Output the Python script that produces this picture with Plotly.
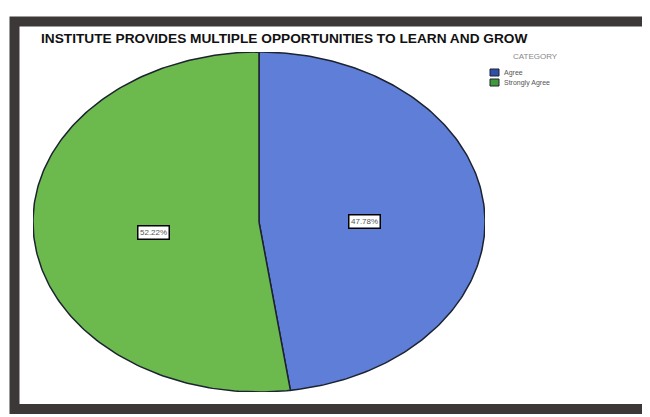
import numpy as np
import plotly.graph_objects as go

# data
categories = ['Agree', 'Strongly Agree']
percents = [47.78, 52.22]
colors = ['#5f7ed8', '#6cb94e']
legend_colors = ['#2f4fa8', '#3f9a3a']

# the page body has an 8px margin, so the figure starts at (8, 8)
O = 8
W, H = 650 - O, 417 - O
L, R, T, B = 33 - O, 650 - 485, 52 - O, 417 - 392
pw, ph = W - L - R, H - T - B


def px(x):
    return (x - O - L) / pw


def py(y):
    return (H - B - (y - O)) / ph


fig = go.Figure()

# wedges of a stretched pie, clockwise from 12 o'clock
start = 0.0
for cat, pct, col in zip(categories, percents, colors):
    a0 = start / 100 * 2 * np.pi
    a1 = (start + pct) / 100 * 2 * np.pi
    t = np.linspace(a0, a1, 200)
    xs = np.concatenate([[0], np.sin(t), [0]])
    ys = np.concatenate([[0], np.cos(t), [0]])
    fig.add_trace(go.Scatter(
        x=xs, y=ys, mode='lines', fill='toself', fillcolor=col,
        line=dict(color='#1c2230', width=1.5), name=cat, hoverinfo='skip',
        showlegend=False
    ))
    mid = (a0 + a1) / 2
    fig.add_annotation(
        x=0.47 * np.sin(mid), y=0.47 * np.cos(mid) - 0.03,
        text='%.2f%%' % pct, showarrow=False,
        font=dict(size=8, color='#555555', family='Arial'),
        bgcolor='white', bordercolor='black', borderwidth=1.5, borderpad=1.5
    )
    start += pct

fig.add_annotation(
    x=px(284), y=py(39), xref='paper', yref='paper',
    xanchor='center', yanchor='middle',
    text='<b>INSTITUTE PROVIDES MULTIPLE OPPORTUNITIES TO LEARN AND GROW</b>',
    showarrow=False, font=dict(size=13.7, color='#111111', family='Arial')
)

# legend drawn by hand (tight spacing as in the scan)
fig.add_annotation(
    x=px(535), y=py(57), xref='paper', yref='paper', text='CATEGORY',
    xanchor='center', yanchor='middle',
    showarrow=False, font=dict(size=8, color='#888888', family='Arial')
)
for i, (cat, col) in enumerate(zip(categories, legend_colors)):
    yc = 72.5 + i * 10
    fig.add_shape(type='rect', xref='paper', yref='paper',
                  x0=px(490), x1=px(499), y0=py(yc + 3.5), y1=py(yc - 3.5),
                  fillcolor=col, line=dict(color='#1c2230', width=1))
    fig.add_annotation(
        x=px(502), y=py(yc), xref='paper', yref='paper', text=cat,
        xanchor='left', yanchor='middle', showarrow=False,
        font=dict(size=7, color='#555555', family='Arial')
    )

# scanned frame
fig.add_shape(type='rect', xref='paper', yref='paper',
              x0=px(14.5), x1=px(670), y0=py(21.5), y1=py(409),
              line=dict(color='#3c3838', width=10), layer='below')

fig.update_layout(
    width=W, height=H,
    margin=dict(l=L, r=R, t=T, b=B),
    paper_bgcolor='white', plot_bgcolor='white',
    xaxis=dict(range=[-1.0, 1.0], visible=False, fixedrange=True),
    yaxis=dict(range=[-1.0, 1.0], visible=False, fixedrange=True),
    showlegend=False
)

fig.write_html('out.html')
